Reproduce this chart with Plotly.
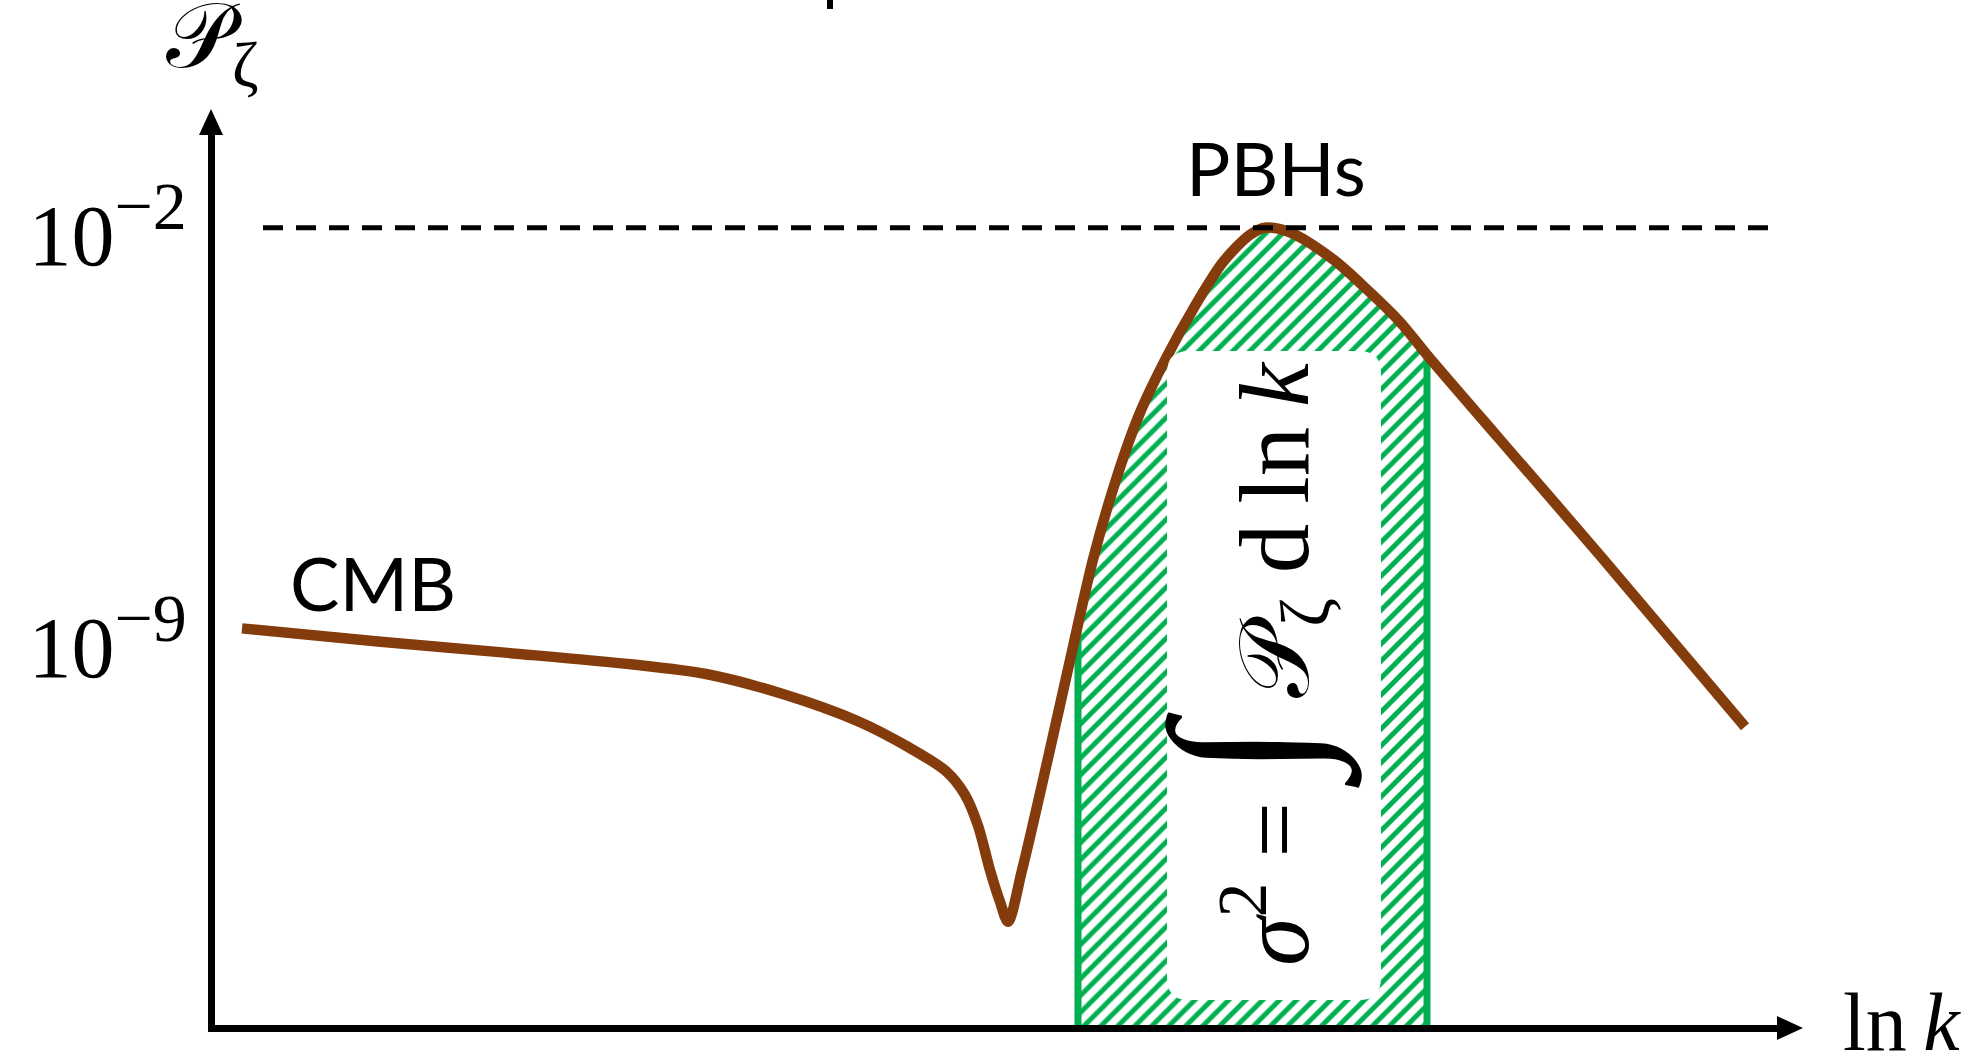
import numpy as np
import plotly.graph_objects as go

# ---- data: sketched primordial curvature power spectrum ----
# ln k in arbitrary units, P_zeta along the curve
ln_k = [0.60, 3.32, 5.86, 8.38, 9.88, 11.40, 12.92, 13.92, 14.68, 15.06,
        15.32, 15.56, 15.76, 15.92, 16.20, 16.70, 17.20, 17.62, 18.10, 18.56,
        19.10, 19.62, 20.22, 20.76, 21.06, 21.56, 22.42, 23.10, 23.76, 24.30,
        25.76, 27.76, 30.66]
P_zeta = [1.55e-9, 9.3e-10, 6.0e-10, 3.8e-10, 2.6e-10, 1.2e-10, 4.1e-11, 1.5e-11, 5.8e-12, 2.3e-12,
          6.9e-13, 1.2e-13, 3.5e-14, 1.6e-14, 1.2e-13, 8.1e-12, 6.3e-10, 2.3e-8, 5.9e-7, 7.2e-6,
          6.5e-5, 4.1e-4, 2.6e-3, 7.6e-3, 1.0e-2, 8.3e-3, 2.9e-3, 8.9e-4, 2.5e-4, 6.9e-5,
          2.5e-6, 2.7e-8, 3.3e-11]

# window of scales integrated for the PBH variance
window_ln_k = [17.32, 24.30]

# PBH threshold level and its extent in ln k
threshold_P = 1e-2
threshold_ln_k = [1.02, 31.26]

tick_vals = [1e-2, 1e-9]
tick_text = ["10<sup><span style='font-size:68px'>\u22122</span></sup>",
             "10<sup><span style='font-size:68px'>\u22129</span></sup>"]

# ---- styling / geometry ----
FIG_W, FIG_H = 1978, 1062
M_L, M_R, M_T, M_B = 215, 196, 130, 37
X_RANGE = [0.06, 31.4]
Y_RANGE = [-15.55, -0.34]          # log10 range of the y axis
PW = FIG_W - M_L - M_R
PH = FIG_H - M_T - M_B

BROWN = "#843C0C"
GREEN = "#00B050"
SERIF = "Liberation Serif"
SANS = "Lato"


def paper_x(px):
    return (px - M_L) / PW


def paper_y(py):
    return (FIG_H - M_B - py) / PH


def rounded_rect(x0, y0, x1, y1, r):
    """SVG path (paper coords) for a rounded rectangle given in pixels."""
    pts = [
        f"M {paper_x(x0 + r)},{paper_y(y0)}",
        f"L {paper_x(x1 - r)},{paper_y(y0)}",
        f"Q {paper_x(x1)},{paper_y(y0)} {paper_x(x1)},{paper_y(y0 + r)}",
        f"L {paper_x(x1)},{paper_y(y1 - r)}",
        f"Q {paper_x(x1)},{paper_y(y1)} {paper_x(x1 - r)},{paper_y(y1)}",
        f"L {paper_x(x0 + r)},{paper_y(y1)}",
        f"Q {paper_x(x0)},{paper_y(y1)} {paper_x(x0)},{paper_y(y1 - r)}",
        f"L {paper_x(x0)},{paper_y(y0 + r)}",
        f"Q {paper_x(x0)},{paper_y(y0)} {paper_x(x0 + r)},{paper_y(y0)}",
        "Z",
    ]
    return " ".join(pts)


def triangle(p1, p2, p3):
    return "M {},{} L {},{} L {},{} Z".format(
        paper_x(p1[0]), paper_y(p1[1]), paper_x(p2[0]), paper_y(p2[1]),
        paper_x(p3[0]), paper_y(p3[1]))


def label(text, px, py, size, family, angle=0):
    return dict(text=text, x=paper_x(px), y=paper_y(py), xref="paper", yref="paper",
                xanchor="center", yanchor="middle", showarrow=False, textangle=angle,
                font=dict(family=family, size=size, color="black"))


# ---- hatched window under the curve ----
log_P = np.log10(P_zeta)
k_lo, k_hi = window_ln_k
P_lo = 10 ** np.interp(k_lo, ln_k, log_P)
P_hi = 10 ** np.interp(k_hi, ln_k, log_P)
P_floor = 10 ** Y_RANGE[0]

inner = [(k, p) for k, p in zip(ln_k, P_zeta) if k_lo < k < k_hi]
win_x = [k_lo, k_lo] + [k for k, _ in inner] + [k_hi, k_hi, k_lo]
win_y = [P_floor, P_lo] + [p for _, p in inner] + [P_hi, P_floor, P_floor]

fig = go.Figure()

fig.add_trace(go.Scatter(
    x=win_x, y=win_y, mode="lines", fill="toself",
    line=dict(width=0, color=GREEN),
    fillcolor="white",
    fillpattern=dict(shape="/", fgcolor=GREEN, bgcolor="white", size=12,
                     solidity=0.42, fillmode="replace"),
    hoverinfo="skip", showlegend=False,
))

# green edges of the window
for k_edge, p_edge in ((k_lo, P_lo), (k_hi, P_hi)):
    fig.add_trace(go.Scatter(
        x=[k_edge, k_edge], y=[P_floor, p_edge], mode="lines",
        line=dict(color=GREEN, width=7), hoverinfo="skip", showlegend=False,
    ))

# the spectrum
fig.add_trace(go.Scatter(
    x=ln_k, y=P_zeta, mode="lines",
    line=dict(color=BROWN, width=10.5, shape="spline", smoothing=0.85),
    hoverinfo="skip", showlegend=False,
))

shapes = [
    # threshold level
    dict(type="line", xref="x", yref="y",
         x0=threshold_ln_k[0], x1=threshold_ln_k[1], y0=threshold_P, y1=threshold_P,
         line=dict(color="black", width=5, dash="20px,13px"), layer="above"),
    # white panel carrying the variance formula
    dict(type="path", xref="paper", yref="paper",
         path=rounded_rect(1167, 351, 1381, 1000, 22),
         fillcolor="white", line=dict(width=0), layer="above"),
    # arrowheads of the axes
    dict(type="path", xref="paper", yref="paper",
         path=triangle((211, 109), (199, 135), (223, 135)),
         fillcolor="black", line=dict(width=0), layer="above"),
    dict(type="path", xref="paper", yref="paper",
         path=triangle((1803, 1028), (1777, 1016), (1777, 1040)),
         fillcolor="black", line=dict(width=0), layer="above"),
    # glyph stub at the top edge
    dict(type="line", xref="paper", yref="paper",
         x0=paper_x(830), x1=paper_x(830), y0=paper_y(0), y1=paper_y(9),
         line=dict(color="black", width=6), layer="above"),
]

annotations = [
    label("\U0001D4AB<sub>\u03b6</sub>", 212, 42, 92, SERIF),
    label("ln\u2009<i>k</i>", 1902, 1022, 82, SERIF),
    label("CMB", 373, 582, 74, SANS),
    label("PBHs", 1276, 167, 74, SANS),
    label("<i>\u03c3</i><sup>2</sup> = <span style='font-size:200px'>\u222b</span> "
          "\U0001D4AB<sub>\u03b6</sub> d\u2009ln\u2009<i>k</i>",
          1246, 664, 99, SERIF, angle=-90),
]

fig.update_layout(
    width=FIG_W, height=FIG_H,
    margin=dict(l=M_L, r=M_R, t=M_T, b=M_B, pad=0),
    paper_bgcolor="white", plot_bgcolor="white",
    shapes=shapes, annotations=annotations,
    xaxis=dict(range=X_RANGE, showgrid=False, zeroline=False, showticklabels=False,
               ticks="", showline=True, linecolor="black", linewidth=7),
    yaxis=dict(type="log", range=Y_RANGE, showgrid=False, zeroline=False,
               tickmode="array", tickvals=tick_vals, ticktext=tick_text, ticks="",
               tickfont=dict(family=SERIF, size=86, color="black"),
               ticklabelstandoff=4, ticklabelshift=7,
               showline=True, linecolor="black", linewidth=7),
)

fig.write_html("out.html")
